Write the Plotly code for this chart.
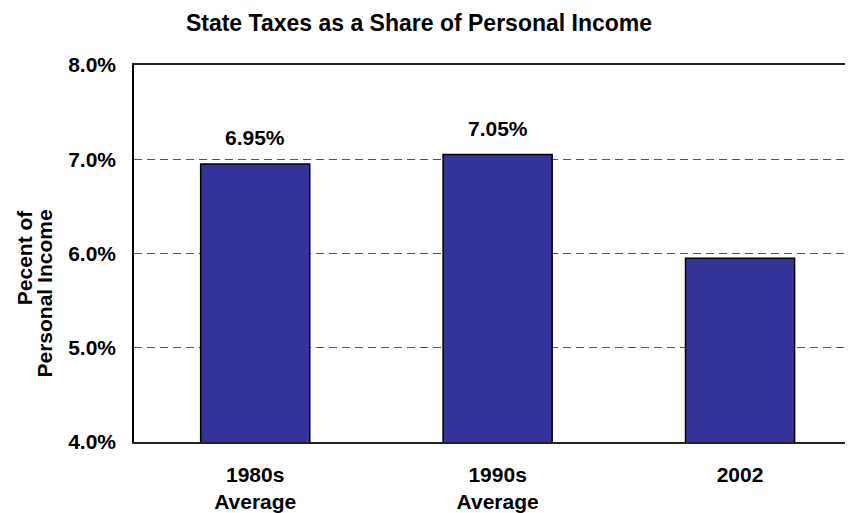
import plotly.graph_objects as go

categories = ["1980s<br>Average", "1990s<br>Average", "2002"]
values = [6.95, 7.05, 5.95]
y_ticks = [4.0, 5.0, 6.0, 7.0, 8.0]
y_tick_labels = ["4.0%", "5.0%", "6.0%", "7.0%", "8.0%"]
title_text = "State Taxes as a Share of Personal Income"
y_title_lines = ["Pecent of", "Personal Income"]

FONT = "Liberation Sans, Arial, sans-serif"

# page body has an 8px default margin, so the figure is sized to fit the window
W, H = 845, 505
L, R, T, B = 126, 0, 57, 71
PW, PH = W - L - R, H - T - B

fig = go.Figure()
fig.add_trace(go.Bar(
    x=categories, y=values, base=0,
    width=0.45,
    marker=dict(color="#333399", line=dict(color="#000000", width=1.5)),
    hoverinfo="skip",
))

for c, v in zip(categories, values):
    fig.add_annotation(x=c, y=v, text=f"<b>{v:.2f}%</b>", showarrow=False,
                       yanchor="bottom", yshift=13,
                       font=dict(family=FONT, size=21, color="#000000"))

# y-axis title (two lines, top-aligned as in the reference)
yt_pos = [((16.7 - L) / PW, (434 - 249.5) / PH), ((36 - L) / PW, (434 - 285.5) / PH)]
for line, (px, py) in zip(y_title_lines, yt_pos):
    fig.add_annotation(xref="paper", yref="paper", x=px, y=py, text=f"<b>{line}</b>",
                       textangle=-90, showarrow=False, xanchor="center", yanchor="middle",
                       font=dict(family=FONT, size=21, color="#000000"))

fig.update_layout(
    width=W, height=H,
    margin=dict(l=L, r=R, t=T, b=B, autoexpand=False),
    paper_bgcolor="white", plot_bgcolor="white",
    showlegend=False,
    title=dict(text=f"<b>{title_text}</b>",
               x=411 / W, xanchor="center", y=1 - 14.5 / H, yanchor="middle",
               font=dict(family=FONT, size=23, color="#000000")),
    font=dict(family=FONT, color="#000000"),
)
fig.update_xaxes(
    range=[-0.5, 2.466], showline=True, linecolor="#222222", linewidth=1.5,
    mirror=True, showgrid=False, ticks="outside", ticklen=13, tickcolor="rgba(0,0,0,0)",
    tickfont=dict(family=FONT, size=21, color="#000000"),
    tickprefix="<b>", ticksuffix="</b>", automargin=False,
)
fig.update_yaxes(
    range=[4, 8], tickvals=y_ticks, ticktext=[f"<b>{t}</b>" for t in y_tick_labels],
    showline=True, linecolor="#000000", linewidth=1.5,
    showgrid=True, gridcolor="#555555", griddash="8px,5px", gridwidth=1,
    ticks="outside", ticklen=12, tickcolor="rgba(0,0,0,0)",
    tickfont=dict(family=FONT, size=21, color="#000000"),
    zeroline=False, automargin=False,
)

fig.write_html("out.html")
